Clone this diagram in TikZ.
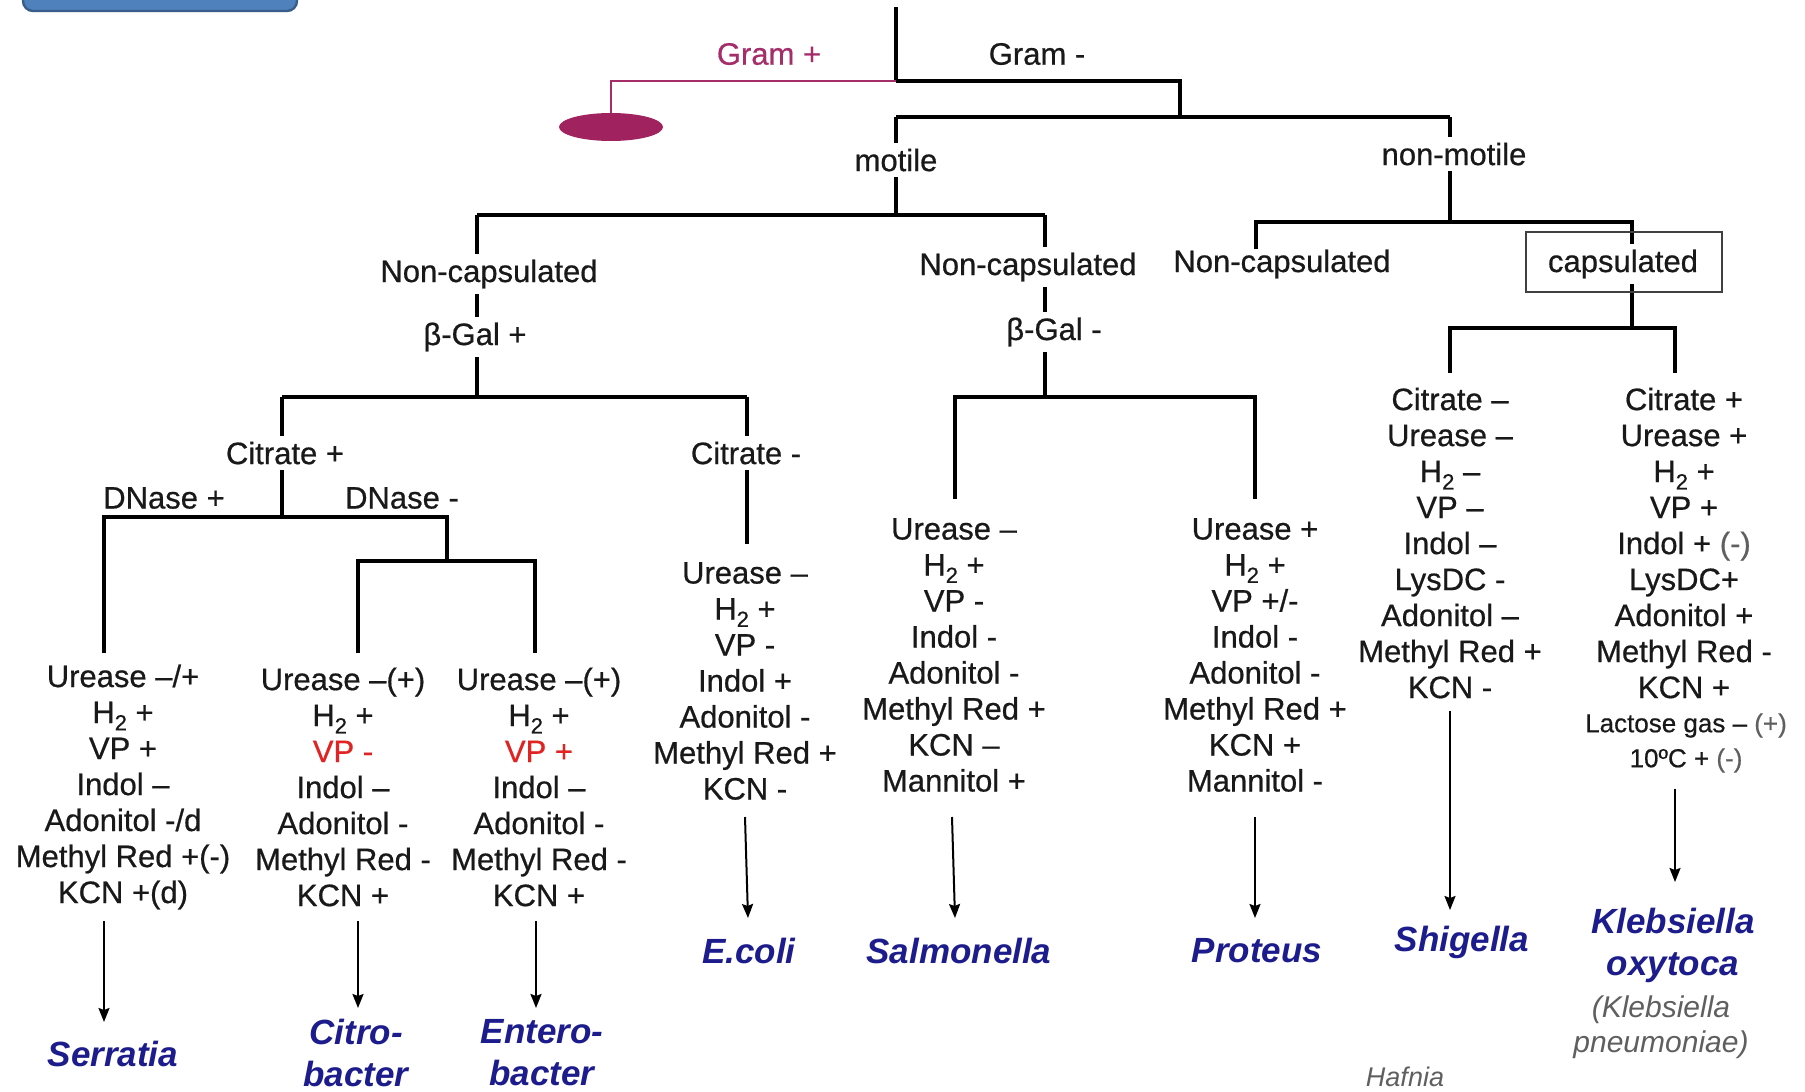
\documentclass[tikz,border=0pt]{standalone}
\usepackage{fontspec}
\setmainfont{Liberation Sans}
\newfontfamily\bodyfont{Liberation Sans}[FakeBold=0.6]
\usetikzlibrary{arrows.meta,shapes.geometric}
\definecolor{txt}{RGB}{25,25,25}
\definecolor{spblue}{RGB}{28,28,140}
\definecolor{vpred}{RGB}{225,35,35}
\definecolor{gpink}{RGB}{165,45,105}
\definecolor{cellc}{RGB}{160,35,95}
\definecolor{gtxt}{RGB}{95,95,95}
\definecolor{boxblue}{RGB}{79,129,189}
\definecolor{boxedge}{RGB}{56,93,138}
\newcommand{\Hsub}{H\raisebox{-0.45ex}{\fontsize{11}{11}\selectfont 2}}
\begin{document}
\begin{tikzpicture}[x=0.5pt,y=-0.5pt,
  tree/.style={line width=1.7pt, draw=black},
  toptree/.style={line width=2.4pt, draw=black},
  pinkline/.style={line width=1pt, draw=gpink},
  arr/.style={line width=1pt, draw=black, -{Stealth[length=7pt,width=5.5pt,inset=1pt]}},
  lbl/.style={font=\bodyfont\fontsize{15.5}{18}\selectfont, text=txt, fill=white, inner sep=3pt},
  block/.style={font=\bodyfont\fontsize{15.5}{18}\selectfont, text=txt, align=center, inner sep=0pt},
  small/.style={font=\bodyfont\fontsize{13}{17.5}\selectfont, text=txt, align=center, inner sep=0pt},
  species/.style={font=\fontsize{17.5}{21}\selectfont\bfseries\itshape, text=spblue, align=center, inner sep=0pt},
  alt/.style={font=\fontsize{15}{17.5}\selectfont\itshape, text=gtxt, align=center, inner sep=0pt}]
\clip (0,0) rectangle (1805,1092);
\fill[white] (0,0) rectangle (1805,1092);

% title box (cut off at the top)
\node[draw=boxedge, fill=boxblue, line width=1.2pt, rounded corners=5pt,
      minimum width=137pt, minimum height=25pt] (titlebox) at (160,-14) {};

% junction coordinates
\coordinate (top) at (896,7);
\coordinate (g) at (896,81);
\coordinate (gR) at (1180,81);
\coordinate (gRd) at (1180,117);
\coordinate (pinkL) at (611,81);
\coordinate (mL) at (896,117);
\coordinate (mR) at (1450,117);
\coordinate (m1) at (896,215);
\coordinate (m1L) at (477,215);
\coordinate (m1R) at (1045,215);
\coordinate (l1L) at (282,397);
\coordinate (l1) at (477,397);
\coordinate (l1R) at (747,397);
\coordinate (c1) at (282,517);
\coordinate (c1L) at (104,517);
\coordinate (c1R) at (447,517);
\coordinate (serTop) at (104,653);
\coordinate (d1) at (447,561);
\coordinate (d1L) at (358,561);
\coordinate (d1R) at (535,561);
\coordinate (citTop) at (358,653);
\coordinate (entTop) at (535,653);
\coordinate (ecTop) at (747,544);
\coordinate (r1) at (1045,397);
\coordinate (r1L) at (955,397);
\coordinate (r1R) at (1255,397);
\coordinate (salTop) at (955,499);
\coordinate (proTop) at (1255,499);
\coordinate (n1) at (1450,222);
\coordinate (n1L) at (1256,222);
\coordinate (n1R) at (1632,222);
\coordinate (n1Ld) at (1256,249);
\coordinate (k1) at (1632,328);
\coordinate (k1L) at (1450,328);
\coordinate (k1R) at (1675,328);
\coordinate (shTop) at (1450,373);
\coordinate (klTop) at (1675,373);

% Gram + cell
\node[ellipse, fill=cellc, minimum width=52pt, minimum height=14pt, inner sep=0pt] (cell) at (611,127) {};

% tree lines
\draw[toptree] (top) -- (g);
\draw[pinkline] (g) -- (pinkL) -- (cell.north);
\draw[tree] (g) -- (gR) -- (gRd);
\draw[tree] (mL) -- (mR);
\draw[tree] (mL) -- (m1);
\draw[tree] (m1L) -- (m1R);
\draw[tree] (m1L) -- (l1);
\draw[tree] (l1L) -- (l1R);
\draw[tree] (l1L) -- (c1);
\draw[tree] (serTop) -- (c1L) -- (c1R) -- (d1);
\draw[tree] (citTop) -- (d1L) -- (d1R) -- (entTop);
\draw[tree] (l1R) -- (ecTop);
\draw[tree] (m1R) -- (r1);
\draw[tree] (salTop) -- (r1L) -- (r1R) -- (proTop);
\draw[tree] (mR) -- (n1);
\draw[tree] (n1Ld) -- (n1L) -- (n1R) -- (k1);
\draw[tree] (shTop) -- (k1L) -- (k1R) -- (klTop);

% labels on the tree
\node[lbl, text=gpink, fill=none] (gramp) at (769,54) {Gram +};
\node[lbl, fill=none] (gramm) at (1037,54) {Gram -};
\node[lbl] (motile) at (896,160) {motile};
\node[lbl] (nonmotile) at (1454,154) {non-motile};
\node[lbl] (nc1) at (489,274) {Non-capsulated};
\node[lbl] (bgp) at (475,337) {β-Gal +};
\node[lbl] (nc2) at (1028,267) {Non-capsulated};
\node[lbl] (bgm) at (1054,332) {β-Gal -};
\node[lbl, fill=none] (nc3) at (1282,264) {Non-capsulated};
\node[lbl] (citp) at (285,453) {Citrate +};
\node[lbl] (citm) at (746,453) {Citrate -};
\node[lbl, fill=none] (dnp) at (164,498) {DNase +};
\node[lbl, fill=none] (dnm) at (402,498) {DNase -};
\node[draw=black!75, line width=1pt, minimum width=98pt, minimum height=30pt, inner sep=0pt] (capsbox) at (1624,262) {};
\node[lbl] (caps) at (1623,264) {capsulated};

% test blocks
\node[block] (serb) at (123,787) {Urease –/+\\ \Hsub{} +\\ VP +\\ Indol –\\ Adonitol -/d\\ Methyl Red +(-)\\ KCN +(d)};
\node[block] (citb) at (343,787) {Urease –(+)\\ \Hsub{} +\\ \textcolor{vpred}{VP -}\\ Indol –\\ Adonitol -\\ Methyl Red -\\ KCN +};
\node[block] (entb) at (539,787) {Urease –(+)\\ \Hsub{} +\\ \textcolor{vpred}{VP +}\\ Indol –\\ Adonitol -\\ Methyl Red -\\ KCN +};
\node[block] (ecb) at (745,681) {Urease –\\ \Hsub{} +\\ VP -\\ Indol +\\ Adonitol -\\ Methyl Red +\\ KCN -};
\node[block] (salb) at (954,655) {Urease –\\ \Hsub{} +\\ VP -\\ Indol -\\ Adonitol -\\ Methyl Red +\\ KCN –\\ Mannitol +};
\node[block] (prob) at (1255,655) {Urease +\\ \Hsub{} +\\ VP +/-\\ Indol -\\ Adonitol -\\ Methyl Red +\\ KCN +\\ Mannitol -};
\node[block] (shb) at (1450,543) {Citrate –\\ Urease –\\ \Hsub{} –\\ VP –\\ Indol –\\ LysDC -\\ Adonitol –\\ Methyl Red +\\ KCN -};
\node[block] (klb) at (1684,543) {Citrate +\\ Urease +\\ \Hsub{} +\\ VP +\\ Indol + \textcolor{gtxt}{(-)}\\ LysDC+\\ Adonitol +\\ Methyl Red -\\ KCN +};
\node[small] (klb2) at (1686,743) {Lactose gas – \textcolor{gtxt}{(+)}\\ 10ºC + \textcolor{gtxt}{(-)}};

% species
\node[species] (ser) at (113,1054) {Serratia};
\node[species] (cit) at (356,1053) {Citro-\\bacter};
\node[species] (ent) at (542,1053) {Entero-\\bacter};
\node[species] (eco) at (749,951) {E.coli};
\node[species] (sal) at (959,951) {Salmonella};
\node[species] (pro) at (1257,951) {Proteus};
\node[species] (shi) at (1462,942) {Shigella};
\node[species] (kle) at (1673,945) {Klebsiella\\oxytoca};
\node[alt] (kpn) at (1661,1027) {(Klebsiella\\pneumoniae)};
\node[alt, font=\fontsize{13.5}{16}\selectfont\itshape] (haf) at (1405,1077) {Hafnia};

% arrows
\coordinate (aS1) at (104,921);  \coordinate (aS2) at (104,1022);
\coordinate (aC1) at (358,921);  \coordinate (aC2) at (358,1008);
\coordinate (aE1) at (536,921);  \coordinate (aE2) at (536,1008);
\coordinate (aEc1) at (745,817); \coordinate (aEc2) at (748,918);
\coordinate (aSa1) at (952,817); \coordinate (aSa2) at (955,918);
\coordinate (aP1) at (1255,817); \coordinate (aP2) at (1255,918);
\coordinate (aSh1) at (1450,711); \coordinate (aSh2) at (1450,910);
\coordinate (aK1) at (1675,789); \coordinate (aK2) at (1675,882);
\draw[arr] (aS1) -- (aS2);
\draw[arr] (aC1) -- (aC2);
\draw[arr] (aE1) -- (aE2);
\draw[arr] (aEc1) -- (aEc2);
\draw[arr] (aSa1) -- (aSa2);
\draw[arr] (aP1) -- (aP2);
\draw[arr] (aSh1) -- (aSh2);
\draw[arr] (aK1) -- (aK2);
\end{tikzpicture}
\end{document}
